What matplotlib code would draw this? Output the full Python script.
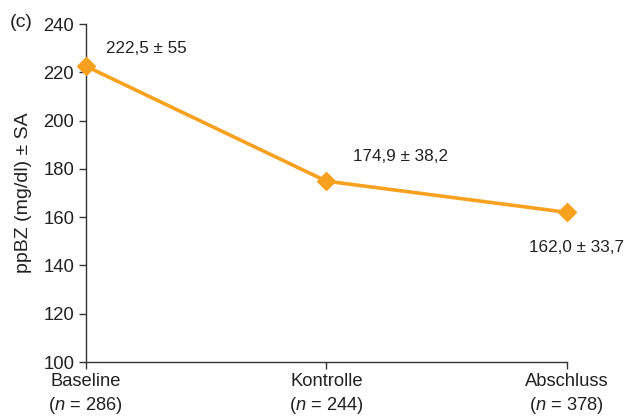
import numpy as np
import matplotlib
matplotlib.use("Agg")
import matplotlib.pyplot as plt

plt.rcParams['font.family'] = ['Liberation Sans', 'DejaVu Sans']
plt.rcParams['mathtext.fontset'] = 'custom'
plt.rcParams['mathtext.rm'] = 'Liberation Sans'
plt.rcParams['mathtext.it'] = 'Liberation Sans:italic'

zeitpunkte = ["Baseline", "Kontrolle", "Abschluss"]
n_werte = [286, 244, 378]
ppbz_mittel = [222.5, 174.9, 162.0]
ppbz_sa = ["55", "38,2", "33,7"]

orange = '#F7A11F'
grau = '#333333'

fig = plt.figure(figsize=(6.25, 4.16), dpi=100)
ax = fig.add_axes([0.1376, 0.1298, 0.7694, 0.8125])

x = np.arange(len(zeitpunkte))
ax.plot(x, ppbz_mittel, color=orange, lw=2.6, marker='D', ms=9,
        markerfacecolor=orange, markeredgecolor=orange, clip_on=False, zorder=3)

# Beschriftung: Mittelwert ± SA
def fmt(v):
    return f"{v:.1f}".replace('.', ',')

offsets = [(14.5, 13), (19, 18), (-27, -25)]
for xi, m, sa, (dx, dy) in zip(x, ppbz_mittel, ppbz_sa, offsets):
    ax.annotate(f"{fmt(m)} ± {sa}", (xi, m), xytext=(dx, dy),
                textcoords='offset points', fontsize=12.3, color='#222222',
                ha='left', va='center')

ax.set_xlim(0, 2)
ax.set_ylim(100, 240)
ax.set_yticks(np.arange(100, 241, 20))
ax.set_xticks(x)
ax.set_xticklabels([f"{z}\n($\\it{{n}}$ = {n})" for z, n in zip(zeitpunkte, n_werte)],
                   fontsize=13.2, linespacing=1.3)
ax.tick_params(axis='y', labelsize=13.3, colors=grau, length=5, width=1)
ax.tick_params(axis='x', colors=grau, length=5, width=1, pad=3)
for lbl in ax.get_xticklabels() + ax.get_yticklabels():
    lbl.set_color('#222222')

for s in ['top', 'right']:
    ax.spines[s].set_visible(False)
for s in ['left', 'bottom']:
    ax.spines[s].set_color(grau)
    ax.spines[s].set_linewidth(1)

ax.set_ylabel("ppBZ (mg/dl) ± SA", fontsize=14, color='#222222', labelpad=8)
fig.text(0.016, 0.945, "(c)", fontsize=14, color='#222222', va='center')

fig.savefig("out.png", dpi=100)
